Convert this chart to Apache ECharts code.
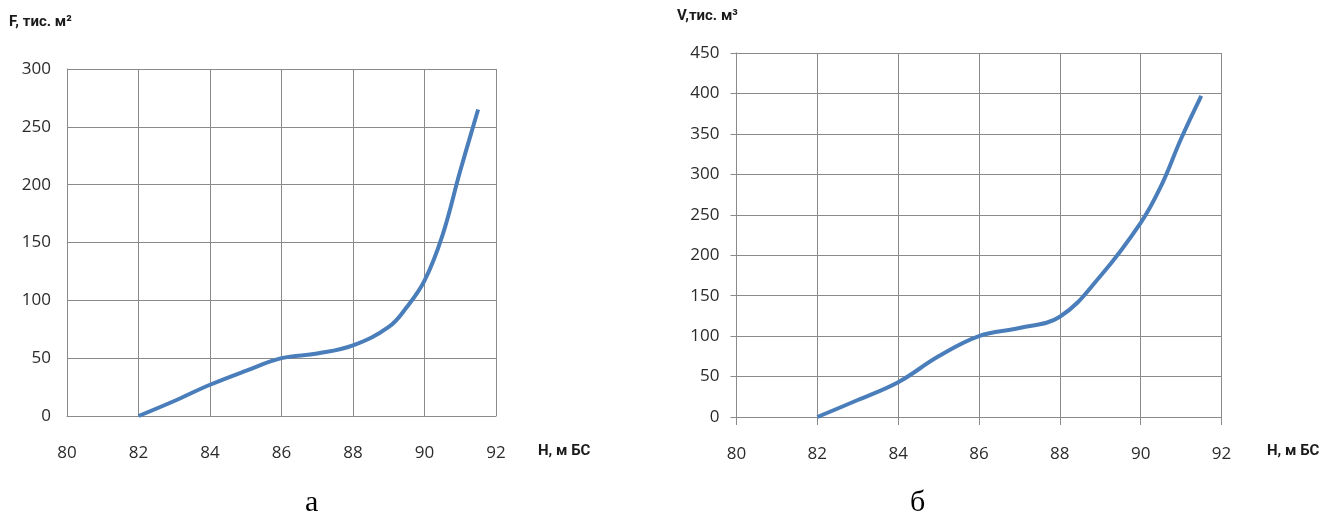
<!DOCTYPE html>
<html>
<head>
<meta charset="utf-8">
<script src="https://cdn.jsdelivr.net/npm/echarts@6/dist/echarts.min.js"></script>
<style>
html,body{margin:0;padding:0;background:#fff;}
#c{width:1324px;height:522px;}
</style>
</head>
<body>
<div id="c"></div>
<script>
// Chart а: area F (thousand m²) vs level H (m BS)
const hF = [82, 83, 84, 85, 86, 87, 88, 89, 89.5, 90, 90.5, 91, 91.5];
const valF = [0, 13, 27, 39, 50, 54, 61, 77, 94, 117, 156, 212, 265];
// Chart б: volume V (thousand m³) vs level H (m BS)
const hV = [82, 83, 84, 85, 86, 87, 88, 89, 90, 90.5, 91, 91.5];
const valV = [0, 21, 43, 75, 100, 110, 124, 174, 240, 285, 344, 397];
const xTicks = [80, 82, 84, 86, 88, 90, 92];
const yTicksF = [0, 50, 100, 150, 200, 250, 300];
const yTicksV = [0, 50, 100, 150, 200, 250, 300, 350, 400, 450];

const gridColor = '#8a8a8a';
const labelFont = {fontFamily: 'Open Sans', fontSize: 17, color: '#2b2b2b'};
const lineColor = '#4a7ebb';

function xAxis(gridIndex, ticks) {
  return {
    type: 'value', gridIndex: gridIndex, min: xTicks[0], max: xTicks[xTicks.length - 1], interval: 2,
    axisLine: {show: true, lineStyle: {color: gridColor, width: 1}},
    axisTick: {show: ticks, length: 8, lineStyle: {color: gridColor}},
    splitLine: {show: true, lineStyle: {color: gridColor, width: 1}},
    axisLabel: Object.assign({margin: 29}, labelFont)
  };
}
function yAxis(gridIndex, max, ticks, margin) {
  return {
    type: 'value', gridIndex: gridIndex, min: 0, max: max, interval: 50,
    axisLine: {show: true, lineStyle: {color: gridColor, width: 1}},
    axisTick: {show: ticks, length: 6, lineStyle: {color: gridColor}},
    splitLine: {show: true, lineStyle: {color: gridColor, width: 1}},
    axisLabel: Object.assign({margin: margin}, labelFont)
  };
}

const nameFont = 'bold 15px Roboto';
const chart = echarts.init(document.getElementById('c'), null, {renderer: 'canvas'});
chart.setOption({
  backgroundColor: '#ffffff',
  animation: false,
  grid: [
    {left: 67, top: 69, width: 429, height: 347},
    {left: 736.5, top: 53, width: 485, height: 364}
  ],
  xAxis: [xAxis(0, false), xAxis(1, true)],
  yAxis: [yAxis(0, yTicksF[yTicksF.length - 1], false, 16), yAxis(1, yTicksV[yTicksV.length - 1], true, 17)],
  series: [
    {
      type: 'line', xAxisIndex: 0, yAxisIndex: 0, smooth: 0.4, symbol: 'none',
      lineStyle: {color: lineColor, width: 4},
      data: hF.map((h, i) => [h, valF[i]])
    },
    {
      type: 'line', xAxisIndex: 1, yAxisIndex: 1, smooth: 0.4, symbol: 'none',
      lineStyle: {color: lineColor, width: 4},
      data: hV.map((h, i) => [h, valV[i]])
    }
  ],
  graphic: [
    {type: 'text', left: 9, top: 15, style: {text: 'F, тис. м²', font: nameFont, fill: '#1a1a1a'}},
    {type: 'text', left: 538, top: 444, style: {text: 'H, м БС', font: nameFont, fill: '#1a1a1a'}},
    {type: 'text', left: 677, top: 9, style: {text: 'V,тис. м³', font: nameFont, fill: '#1a1a1a'}},
    {type: 'text', left: 1267, top: 444, style: {text: 'H, м БС', font: nameFont, fill: '#1a1a1a'}},
    {type: 'text', left: 305, top: 488, style: {text: 'а', font: '30px "Liberation Serif"', fill: '#000'}},
    {type: 'text', left: 910, top: 488, style: {text: 'б', font: '30px "Liberation Serif"', fill: '#000'}}
  ]
});
</script>
</body>
</html>
